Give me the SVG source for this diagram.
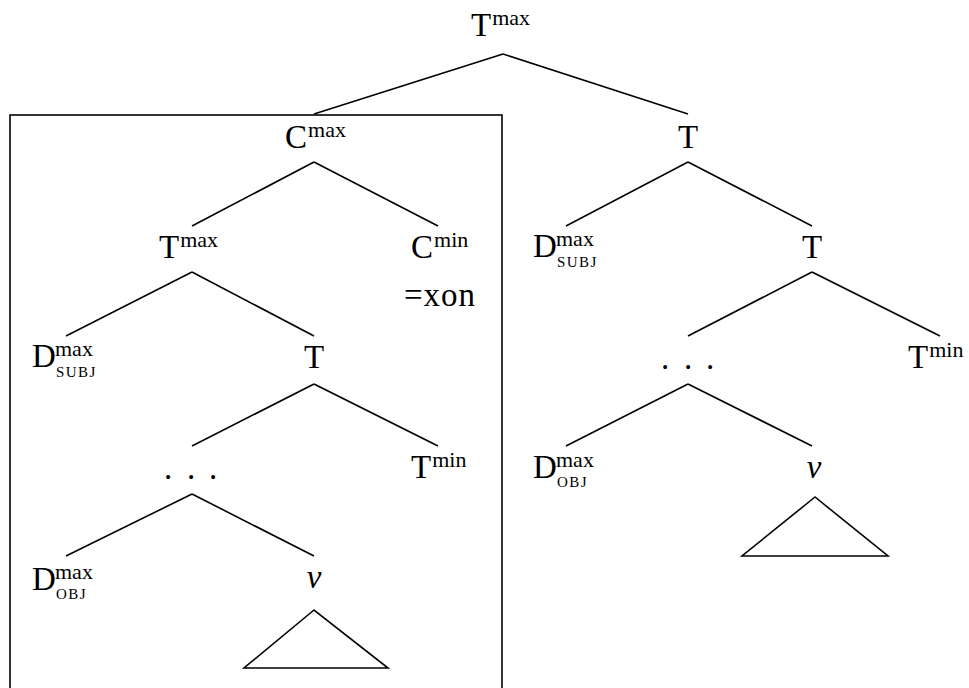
<svg xmlns="http://www.w3.org/2000/svg" width="969" height="688" viewBox="0 0 969 688">
<style>
text{font-family:"Liberation Serif","DejaVu Serif",serif;fill:#000}
.m{font-size:33px}
.sup{font-size:22px}
.sub{font-size:15px;letter-spacing:1.4px}
.it{font-style:italic}
line,polygon,rect{stroke:#000;stroke-width:1.6;fill:none}
</style>
<rect x="10" y="115" width="492" height="590"/>
<g id="edges">
<line x1="503" y1="54" x2="314" y2="114"/>
<line x1="503" y1="54" x2="688" y2="114"/>
<line x1="314" y1="162" x2="192" y2="226"/>
<line x1="314" y1="162" x2="438" y2="226"/>
<line x1="192" y1="272" x2="66" y2="336"/>
<line x1="192" y1="272" x2="314" y2="336"/>
<line x1="314" y1="384" x2="192" y2="446"/>
<line x1="314" y1="384" x2="438" y2="446"/>
<line x1="192" y1="494" x2="66" y2="556"/>
<line x1="192" y1="494" x2="314" y2="556"/>
<line x1="688" y1="162" x2="566" y2="226"/>
<line x1="688" y1="162" x2="812" y2="226"/>
<line x1="812" y1="272" x2="688" y2="336"/>
<line x1="812" y1="272" x2="940" y2="336"/>
<line x1="688" y1="384" x2="566" y2="446"/>
<line x1="688" y1="384" x2="812" y2="446"/>
</g>
<g id="n-top"><text class="m" x="471" y="36">T<tspan class="sup" dx="1" dy="-11">max</tspan></text></g>
<g id="n-cmax"><text class="m" x="285" y="148">C<tspan class="sup" dx="1" dy="-11">max</tspan></text></g>
<g id="n-tmax"><text class="m" x="159" y="258">T<tspan class="sup" dx="1" dy="-11">max</tspan></text></g>
<g id="n-cmin"><text class="m" x="411" y="258">C<tspan class="sup" dx="1" dy="-11">min</tspan></text></g>
<g id="n-xon"><text class="m" x="404" y="306" letter-spacing="1">=xon</text></g>
<g id="n-dsubj1"><text class="m" x="32" y="367">D</text><text class="sup" x="55" y="356">max</text><text class="sub" x="56" y="377">SUBJ</text></g>
<g id="n-t1"><text class="m" x="314" y="368" text-anchor="middle">T</text></g>
<g id="n-dots1"><text class="m" x="164 187 209" y="479">...</text></g>
<g id="n-tmin1"><text class="m" x="411" y="478">T<tspan class="sup" dx="1" dy="-11">min</tspan></text></g>
<g id="n-dobj1"><text class="m" x="32" y="590">D</text><text class="sup" x="55" y="579">max</text><text class="sub" x="56" y="599">OBJ</text></g>
<g id="n-v1"><text class="m it" x="314" y="588" text-anchor="middle">v</text><polygon points="314,610 244,668 388,668"/></g>
<g id="n-t-right"><text class="m" x="688" y="148" text-anchor="middle">T</text></g>
<g id="n-dsubj2"><text class="m" x="533" y="257">D</text><text class="sup" x="556" y="246">max</text><text class="sub" x="557" y="267">SUBJ</text></g>
<g id="n-t2"><text class="m" x="812" y="258" text-anchor="middle">T</text></g>
<g id="n-dots2"><text class="m" x="661 684 706" y="369">...</text></g>
<g id="n-tmin2"><text class="m" x="908" y="368">T<tspan class="sup" dx="1" dy="-11">min</tspan></text></g>
<g id="n-dobj2"><text class="m" x="533" y="478">D</text><text class="sup" x="556" y="467">max</text><text class="sub" x="557" y="487">OBJ</text></g>
<g id="n-v2"><text class="m it" x="814" y="478" text-anchor="middle">v</text><polygon points="815,497 742,556 888,556"/></g>
</svg>
